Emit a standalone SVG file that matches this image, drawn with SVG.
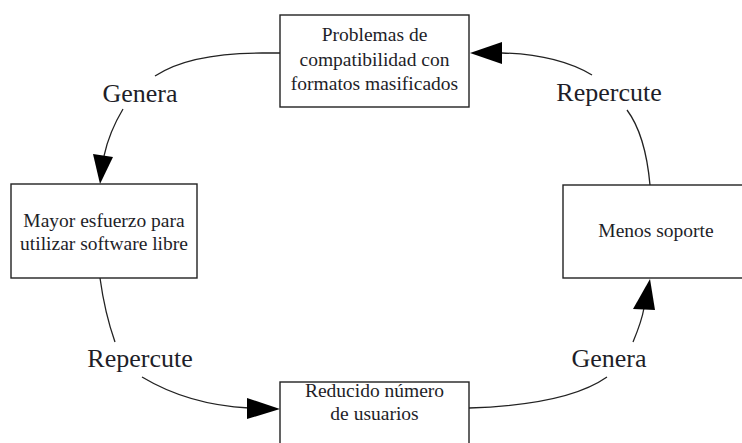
<svg xmlns="http://www.w3.org/2000/svg" width="742" height="443" viewBox="0 0 742 443">
<style>
.box{fill:#fff;stroke:#222;stroke-width:1.4}
.t{font-family:"Liberation Serif","Times New Roman",serif;font-size:19.5px;fill:#1e1e28;text-anchor:middle}
.l{font-family:"Liberation Serif","Times New Roman",serif;font-size:26px;fill:#1e1e28;text-anchor:middle}
.c{fill:none;stroke:#222;stroke-width:1.3}
.a{fill:#000;stroke:none}
</style>
<rect width="742" height="443" fill="#fff"/>
<g id="connectors">
<path class="c" d="M280,53 L262,53 C222,53 182,58 155,76"/>
<path class="c" d="M123,109 C114,124 107,142 104,156"/>
<polygon class="a" points="93,154 113,157 100,184"/>
<path class="c" d="M100,278 C103,300 109,325 115,342"/>
<path class="c" d="M142,377 C172,395 210,406 249,408"/>
<polygon class="a" points="247,398 247,419 280,409"/>
<path class="c" d="M469,408 C530,406 580,396 607,377"/>
<path class="c" d="M633,342 C638,330 642,320 644,308"/>
<polygon class="a" points="633,309 655,310 650,279"/>
<path class="c" d="M650,185 C647,152 639,126 627,110"/>
<path class="c" d="M592,75 C570,62 540,54 502,53"/>
<polygon class="a" points="502,42 502,64 470,53"/>
<text class="l" x="140" y="102">Genera</text>
<text class="l" x="609" y="101">Repercute</text>
<text class="l" x="140" y="367">Repercute</text>
<text class="l" x="609" y="367">Genera</text>
</g>
<g id="n1">
<rect class="box" x="280" y="15" width="189" height="92"/>
<text class="t" x="374.5" y="41">Problemas de</text>
<text class="t" x="374.5" y="66">compatibilidad con</text>
<text class="t" x="374.5" y="90">formatos masificados</text>
</g>
<g id="n2">
<rect class="box" x="563" y="185" width="190" height="93"/>
<text class="t" x="656" y="237">Menos soporte</text>
</g>
<g id="n3">
<rect class="box" x="280" y="382" width="189" height="70"/>
<text class="t" x="374.5" y="397">Reducido número</text>
<text class="t" x="374.5" y="420">de usuarios</text>
</g>
<g id="n4">
<rect class="box" x="11" y="184" width="186" height="94"/>
<text class="t" x="104" y="227">Mayor esfuerzo para</text>
<text class="t" x="104" y="250">utilizar software libre</text>
</g>
</svg>
